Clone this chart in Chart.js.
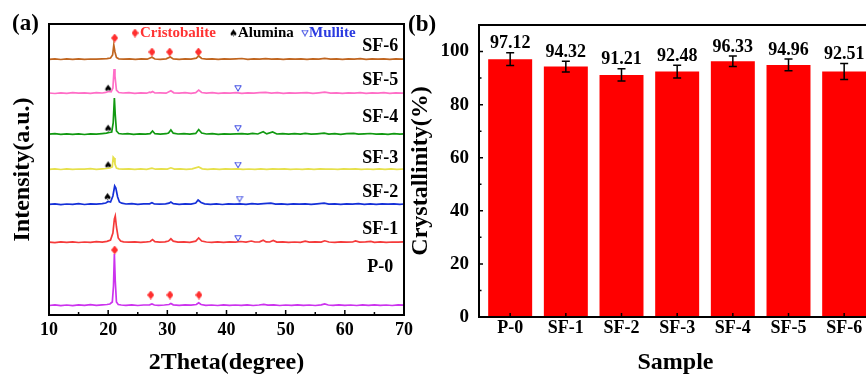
<!DOCTYPE html>
<html><head><meta charset="utf-8">
<script src="https://cdn.jsdelivr.net/npm/chart.js@4.4.1/dist/chart.umd.min.js"></script>
<style>
html,body{margin:0;padding:0;background:#fff;overflow:hidden;width:866px;height:377px;position:relative;}
#wa{position:absolute;left:0;top:0;width:420px;height:377px;}
#wb{position:absolute;left:398px;top:0;width:480px;height:377px;}
canvas{display:block;}
</style></head><body>
<div id="wa"><canvas id="ca" width="420" height="377"></canvas></div>
<div id="wb"><canvas id="cb" width="480" height="377"></canvas></div>
<script>
// ---------------- DATA ----------------
const sampleNames = ['P-0','SF-1','SF-2','SF-3','SF-4','SF-5','SF-6'];
const crystallinity = [97.12, 94.32, 91.21, 92.48, 96.33, 94.96, 92.51];
const crystErr = [2.4, 2.0, 2.3, 2.4, 2.0, 2.2, 3.0];
const crystTicks = [0, 20, 40, 60, 80, 100];
const thetaTicks = [10, 20, 30, 40, 50, 60, 70];
// vertical stacking offsets of the XRD patterns (a.u.)
const xrdOffsets = [9, 72, 110, 145, 180, 221, 255];
// XRD patterns: [2theta, intensity a.u.]
const xrdP0 = [[10,0.5],[11,1.2],[12,0.3],[13,1],[14,0.4],[15,1.1],[16,0.6],[17,1.3],[18,0.7],[19,1.2],[19.8,1.5],[20.3,2],[20.7,4],[20.9,20],[21.05,52],[21.2,25],[21.4,4],[21.7,1.5],[22.2,1],[23,0.6],[24,1.1],[25,0.5],[26,1],[27,1.2],[27.4,2],[27.8,1],[28.5,0.7],[29.5,1],[30.3,1.5],[30.6,2.5],[31,1.2],[32,0.6],[33,1.1],[34,0.8],[34.9,1.5],[35.3,3.2],[35.7,1.5],[36.5,0.7],[37.5,1],[38.5,0.5],[39.5,1.1],[40.5,0.6],[41.5,1],[42.5,0.7],[43.5,1.1],[44.5,0.5],[45.5,1],[46.3,1.6],[47,0.8],[48,1.2],[49,0.5],[50,1],[51,0.7],[52,1.1],[53,0.6],[54,1],[55,0.5],[56,1.2],[56.6,2],[57.2,1],[58,0.6],[59,1.1],[60,0.7],[61,1],[62,0.5],[63,1.1],[64,0.6],[65,1.2],[66,0.7],[67,1],[68,0.5],[69,1.1],[70,0.8]];
const xrdSF1 = [[10,0.8],[11,0.3],[12,1.1],[13,0.6],[14,1.2],[15,0.5],[16,1],[17,0.7],[18,1.3],[19,0.9],[19.8,1.6],[20.4,3],[20.8,10],[21.05,24],[21.2,27],[21.4,16],[21.7,5],[22.1,2],[22.6,1.2],[23.5,0.8],[24.5,1.2],[25.5,0.6],[26.5,1.1],[27.1,1.5],[27.5,3.5],[27.9,1.4],[28.7,0.9],[29.6,1.2],[30.2,2],[30.6,4.2],[31.0,1.8],[31.8,0.8],[32.8,1.2],[33.8,0.7],[34.8,1.8],[35.3,5],[35.8,2],[36.6,1],[37.5,0.6],[38.5,1.1],[39.5,0.7],[40.5,1.2],[41.5,0.8],[42.4,1.5],[43.3,0.9],[44.2,2],[44.8,1],[45.6,1.2],[46.2,2.8],[46.7,1.1],[47.3,1],[47.9,2.6],[48.5,0.9],[49.5,1.1],[50.5,0.6],[51.5,1],[52.5,0.7],[53.3,1.8],[54,0.8],[55,1.1],[56,0.9],[56.6,2.2],[57.3,1],[58.3,0.6],[59.3,1.2],[60.3,0.8],[61.3,1],[61.8,2],[62.5,0.9],[63.5,1.1],[64.4,1.6],[65,0.7],[66,1.1],[67,0.6],[68,1],[69,0.8],[70,1.2]];
const xrdSF2 = [[10,0.6],[11,1.2],[12,0.4],[13,1],[14,0.7],[15,1.3],[16,0.5],[17,1.1],[18,0.8],[19,1.4],[19.6,2],[20.0,3.5],[20.4,3],[20.8,9],[21.1,19],[21.3,17],[21.6,8],[21.9,3],[22.3,1.8],[23,1],[24,1.3],[25,0.6],[26,1.1],[27,1.2],[27.4,2.2],[27.8,1],[28.7,0.8],[29.7,1.2],[30.3,1.8],[30.6,3],[31,1.4],[32,0.7],[33,1.2],[34,0.9],[34.8,2],[35.2,5],[35.7,2.5],[36.3,1.2],[37.3,0.7],[38.3,1.1],[39.3,0.5],[40.3,1.2],[41.3,0.8],[42.3,1.1],[43.3,0.6],[44.3,1.3],[45.3,0.8],[46.3,1.4],[47.5,1.8],[48.3,0.9],[49.3,1.2],[50.3,0.6],[51.3,1.1],[52.3,0.8],[53.3,1.2],[54.3,0.6],[55.3,1.1],[56.5,1.8],[57.3,0.8],[58.3,1.2],[59.3,0.6],[60.3,1.1],[61.3,0.9],[62.3,1.3],[63.3,0.7],[64.3,1.1],[65.3,0.6],[66.3,1.2],[67.3,0.8],[68.3,1.1],[69.3,0.7],[70,1]];
const xrdSF3 = [[10,0.7],[11,1.1],[12,0.5],[13,1.2],[14,0.6],[15,1],[16,0.8],[17,1.3],[18,0.6],[19,1.1],[19.7,1.5],[20.3,2],[20.7,3],[20.85,13],[21.0,12],[21.15,6],[21.4,2],[21.8,1.2],[22.5,0.8],[23.5,1.2],[24.5,0.6],[25.5,1.1],[26.5,0.7],[27.4,1.8],[28,0.8],[29,1.2],[30,0.9],[30.6,2.2],[31.2,0.9],[32.2,1.2],[33.2,0.6],[34.2,1.1],[35.3,3],[35.9,1.2],[36.8,0.7],[37.8,1.1],[38.8,0.6],[39.8,1.2],[40.8,0.8],[41.8,1.1],[42.8,0.6],[43.8,1],[44.8,0.7],[45.8,1.2],[46.8,0.6],[47.8,1.1],[48.8,0.8],[49.8,1.2],[50.8,0.6],[51.8,1],[52.8,0.7],[53.8,1.1],[54.8,0.6],[55.8,1.2],[56.8,0.8],[57.8,1],[58.8,0.6],[59.8,1.1],[60.8,0.8],[61.8,1.2],[62.8,0.6],[63.8,1],[64.8,0.7],[65.8,1.1],[66.8,0.6],[67.8,1.2],[68.8,0.7],[70,1]];
const xrdSF4 = [[10,0.8],[11,1.3],[12,0.6],[13,1.2],[14,0.7],[15,1.1],[16,0.5],[17,1.2],[18,0.8],[19,1.4],[19.7,1.8],[20.2,2.5],[20.6,3],[20.85,12],[21.05,37],[21.2,20],[21.4,4],[21.8,1.5],[22.4,1],[23.3,1.3],[24.3,0.7],[25.3,1.2],[26.3,0.8],[27.1,1.4],[27.5,4],[27.9,1.3],[28.8,0.9],[29.8,1.3],[30.2,2],[30.6,5],[31,1.8],[31.8,1],[32.8,1.3],[33.8,0.8],[34.8,1.6],[35.3,5.5],[35.8,2],[36.6,1],[37.6,1.3],[38.6,0.7],[39.6,1.2],[40.6,0.8],[41.6,1.1],[42.6,1.4],[43.6,0.9],[44.4,1.6],[45.3,1],[46.2,3.2],[46.8,1.1],[47.8,3],[48.5,1],[49.5,1.3],[50.5,0.8],[51.5,1.4],[52.5,0.9],[53.3,1.6],[54.3,0.8],[55.3,1.2],[56.5,1.8],[57.3,0.9],[58.3,1.3],[59.3,0.7],[60.3,1.3],[61.5,1.6],[62.3,0.8],[63.3,1.2],[64.3,1.5],[65.3,0.8],[66.3,1.2],[67.3,0.7],[68.3,1.3],[69.3,0.8],[70,1.1]];
const xrdSF5 = [[10,1],[11,0.5],[12,1.2],[13,0.7],[14,1.3],[15,0.8],[16,1.1],[17,0.6],[18,1.3],[19,1],[19.6,1.6],[20.1,2.5],[20.5,2.2],[20.8,6],[21.0,25],[21.15,18],[21.4,4],[21.8,1.5],[22.5,1],[23.5,1.3],[24.5,0.7],[25.5,1.2],[26.5,0.8],[27.0,1.8],[27.2,1.4],[27.5,2.4],[27.9,1],[28.8,1.2],[29.8,0.8],[30.6,3.2],[31.1,1.2],[32,0.8],[33,1.3],[34,0.7],[34.8,1.4],[35.3,3.8],[35.8,1.5],[36.6,0.9],[37.6,1.3],[38.6,0.7],[39.6,1.2],[40.6,0.8],[41.6,1.3],[42.6,0.7],[43.6,1.2],[44.6,0.8],[45.6,1.3],[46.6,1.7],[47.6,0.9],[48.6,1.3],[49.6,0.7],[50.6,1.2],[51.6,0.8],[52.6,1.1],[53.6,1.4],[54.6,0.7],[55.6,1.2],[56.6,1.8],[57.6,0.8],[58.6,1.2],[59.6,0.7],[60.6,1.1],[61.6,0.9],[62.6,1.3],[63.6,0.7],[64.6,1.2],[65.6,0.8],[66.6,1.3],[67.6,0.7],[68.6,1.2],[69.6,0.8],[70,1]];
const xrdSF6 = [[10,0.7],[11,1.2],[12,0.5],[13,1.1],[14,0.7],[15,1.2],[16,0.6],[17,1],[18,0.8],[19,1.2],[19.8,1.4],[20.4,2],[20.75,5],[20.95,15],[21.15,8],[21.4,2.5],[21.8,1.2],[22.6,0.8],[23.6,1.2],[24.6,0.6],[25.6,1.1],[26.6,0.8],[27.4,2.8],[27.9,1],[28.8,0.7],[29.8,1.2],[30.5,3],[31,1.1],[32,0.7],[33,1.2],[34,0.8],[34.9,1.8],[35.3,4],[35.8,1.5],[36.6,0.8],[37.6,1.2],[38.6,0.6],[39.6,1.1],[40.6,0.8],[41.6,1.2],[42.6,1.5],[43.6,0.7],[44.6,1.2],[45.6,0.8],[46.6,1.3],[47.6,0.9],[48.6,1.2],[49.6,0.7],[50.6,1.1],[51.6,0.8],[52.6,1.2],[53.6,0.6],[54.6,1.1],[55.6,0.8],[56.6,1.6],[57.6,0.9],[58.6,1.2],[59.6,0.7],[60.6,1.1],[61.6,0.8],[62.6,1.3],[63.6,0.7],[64.6,1.2],[65.6,0.8],[66.6,1.1],[67.6,0.7],[68.6,1.2],[69.6,0.8],[70,1]];
// phase markers: [2theta, a.u.]
const cristobaliteMarks = [[21.1,277],[27.4,263],[30.4,263],[35.25,263],[21.1,65],[27.2,20],[30.45,20],[35.35,20]];
const aluminaMarks = [[20.0,226.7],[20.0,186.7],[20.0,150],[19.9,118.3]];
const mulliteMarks = [[41.95,226.7],[41.95,186.7],[41.95,150],[42.2,116],[41.95,76.7]];
// sample label anchor points on panel (a): [2theta, a.u.]
const xrdLabelAnchors = [[66,48],[66,86],[66,123],[66,157],[66,197.5],[66,234.5],[66,269]];

// ---------------- STYLE ----------------
const SERIF = "'Liberation Serif','Times New Roman',serif";
const xrdColors = ['#CC33EE','#F53A3A','#1530D8','#E6E04A','#119911','#FF6EC7','#C0651F'];

function mkImg(w,h,draw){const c=document.createElement('canvas');c.width=w;c.height=h;draw(c.getContext('2d'));return c;}
const diamondImg = mkImg(7,9,g=>{g.fillStyle='#FF2E2E';g.beginPath();g.moveTo(3.5,0);g.lineTo(7,4.5);g.lineTo(3.5,9);g.lineTo(0,4.5);g.closePath();g.fill();});
const spadeImg = mkImg(9,9,g=>{g.fillStyle='#000';g.font="10px 'DejaVu Sans'";g.textAlign='center';g.textBaseline='middle';g.fillText('\u2660',4.5,5);});
const triImg = mkImg(8,7,g=>{g.strokeStyle='#2A3AE0';g.lineWidth=1;g.beginPath();g.moveTo(0.8,0.8);g.lineTo(7.2,0.8);g.lineTo(4,6.3);g.closePath();g.stroke();});

// ---------------- PANEL (a) ----------------
const xrdSeries = [xrdP0,xrdSF1,xrdSF2,xrdSF3,xrdSF4,xrdSF5,xrdSF6];
const datasetsA = xrdSeries.map((s,i)=>({
  label: sampleNames[i],
  data: s.map(([x,v])=>({x:x, y:v + xrdOffsets[i]})),
  borderColor: xrdColors[i], borderWidth: 1.7, pointRadius: 0, fill:false, tension:0
}));
const markerSet = (arr,img)=>({data: arr.map(([x,y])=>({x,y})), showLine:false, pointStyle: img, pointRadius: 4, borderWidth:0});
datasetsA.push(markerSet(cristobaliteMarks, diamondImg));
datasetsA.push(markerSet(aluminaMarks, spadeImg));
datasetsA.push(markerSet(mulliteMarks, triImg));

const panelAPlugin = {
  id:'panelA',
  afterDraw(chart){
    const {ctx, chartArea:a, scales:{x,y}} = chart;
    ctx.save();
    ctx.strokeStyle='#000'; ctx.lineWidth=2;
    ctx.strokeRect(a.left, a.top, a.right-a.left, a.bottom-a.top);
    ctx.lineWidth=1.5;
    ctx.beginPath();
    thetaTicks.forEach(t=>{const px=x.getPixelForValue(t);ctx.moveTo(px,a.bottom);ctx.lineTo(px,a.bottom-5);});
    for(let i=0;i<thetaTicks.length-1;i++){const px=x.getPixelForValue((thetaTicks[i]+thetaTicks[i+1])/2);ctx.moveTo(px,a.bottom);ctx.lineTo(px,a.bottom-3);}
    ctx.stroke();
    // sample labels
    ctx.fillStyle='#000'; ctx.font='bold 18px '+SERIF; ctx.textAlign='center'; ctx.textBaseline='middle';
    xrdLabelAnchors.forEach(([t,v],i)=>ctx.fillText(sampleNames[i], x.getPixelForValue(t), y.getPixelForValue(v)));
    // legend
    ctx.font='bold 15px '+SERIF; ctx.textAlign='left';
    ctx.drawImage(diamondImg,131.5,28.5); ctx.fillStyle='#FF3333'; ctx.fillText('Cristobalite',140,33);
    ctx.drawImage(spadeImg,229,28.5); ctx.fillStyle='#000'; ctx.fillText('Alumina',238,33);
    ctx.drawImage(triImg,301,29.5); ctx.fillStyle='#2A3AE0'; ctx.fillText('Mullite',309,33);
    // panel letter
    ctx.fillStyle='#000'; ctx.font='bold 23px '+SERIF; ctx.textBaseline='alphabetic';
    ctx.fillText('(a)',12,30);
    ctx.restore();
  }
};

new Chart(document.getElementById('ca'), {
  type:'line',
  data:{datasets:datasetsA},
  options:{
    responsive:false, animation:false, events:[],
    layout:{padding:{left:0,top:24,right:16,bottom:0}},
    plugins:{legend:{display:false}, tooltip:{enabled:false}},
    scales:{
      x:{type:'linear', min:10, max:70,
        afterFit:s=>{s.height=62;},
        grid:{display:false, drawTicks:false}, border:{display:false},
        ticks:{stepSize:10, color:'#000', padding:5, font:{family:SERIF, size:18, weight:'bold'}},
        title:{display:true, text:'2Theta(degree)', color:'#000', padding:{top:0,bottom:0}, font:{family:SERIF, size:24, weight:'bold'}}
      },
      y:{type:'linear', min:0, max:291,
        afterFit:s=>{s.width=49;},
        grid:{display:false, drawTicks:false}, border:{display:false},
        ticks:{display:false},
        title:{display:true, text:'Intensity(a.u.)', color:'#000', padding:{top:8,bottom:0}, font:{family:SERIF, size:24, weight:'bold'}}
      }
    }
  },
  plugins:[panelAPlugin]
});

// ---------------- PANEL (b) ----------------
const panelBPlugin = {
  id:'panelB',
  afterDraw(chart){
    const {ctx, chartArea:a, scales:{x,y}} = chart;
    ctx.save();
    ctx.strokeStyle='#000'; ctx.lineWidth=2;
    ctx.strokeRect(a.left, a.top, a.right-a.left, a.bottom-a.top);
    ctx.lineWidth=1.5; ctx.beginPath();
    crystTicks.forEach(t=>{const py=y.getPixelForValue(t);ctx.moveTo(a.left,py);ctx.lineTo(a.left+4,py);});
    crystTicks.forEach(t=>{const py=y.getPixelForValue(t+10);ctx.moveTo(a.left,py);ctx.lineTo(a.left+2.5,py);});
    sampleNames.forEach((n,i)=>{const px=x.getPixelForValue(i);ctx.moveTo(px,a.bottom);ctx.lineTo(px,a.bottom-4);});
    ctx.stroke();
    // error bars and value labels
    ctx.lineWidth=1.5; ctx.fillStyle='#000';
    ctx.font='bold 18px '+SERIF; ctx.textAlign='center'; ctx.textBaseline='middle';
    crystallinity.forEach((v,i)=>{
      const px=x.getPixelForValue(i), top=y.getPixelForValue(v+crystErr[i]), bot=y.getPixelForValue(v-crystErr[i]);
      ctx.beginPath();
      ctx.moveTo(px,top);ctx.lineTo(px,bot);
      ctx.moveTo(px-4,top);ctx.lineTo(px+4,top);
      ctx.moveTo(px-4,bot);ctx.lineTo(px+4,bot);
      ctx.stroke();
      ctx.fillText(v.toFixed(2), px, top-9);
    });
    ctx.font='bold 23px '+SERIF; ctx.textAlign='left'; ctx.textBaseline='alphabetic';
    ctx.fillText('(b)',10,31);
    ctx.restore();
  }
};

new Chart(document.getElementById('cb'), {
  type:'bar',
  data:{datasets:[{
    label:'Crystallinity',
    data: crystallinity.map((v,i)=>({x:i, y:v})),
    backgroundColor:'#FF0000', borderWidth:0,
    categoryPercentage:1, barPercentage:0.79
  }]},
  options:{
    responsive:false, animation:false, events:[],
    layout:{padding:{left:0,top:25,right:6,bottom:0}},
    plugins:{legend:{display:false}, tooltip:{enabled:false}},
    scales:{
      x:{type:'linear', min:-0.56, max:6.5, offset:false,
        afterFit:s=>{s.height=60;},
        grid:{display:false, drawTicks:false}, border:{display:false},
        ticks:{stepSize:1, includeBounds:false, autoSkip:false, maxRotation:0, color:'#000', padding:2,
          font:{family:SERIF, size:18, weight:'bold', lineHeight:1},
          callback:v=>sampleNames[v] ?? ''},
        title:{display:true, text:'Sample', color:'#000', padding:{top:0,bottom:0}, font:{family:SERIF, size:24, weight:'bold'}}
      },
      y:{type:'linear', min:0, max:110,
        afterFit:s=>{s.width=81;},
        grid:{display:false, drawTicks:false}, border:{display:false},
        ticks:{stepSize:20, includeBounds:false, color:'#000', padding:10, font:{family:SERIF, size:19, weight:'bold'}},
        title:{display:true, text:'Crystallinity(%)', color:'#000', padding:{top:8,bottom:0}, font:{family:SERIF, size:24, weight:'bold'}}
      }
    }
  },
  plugins:[panelBPlugin]
});
</script>
</body></html>
